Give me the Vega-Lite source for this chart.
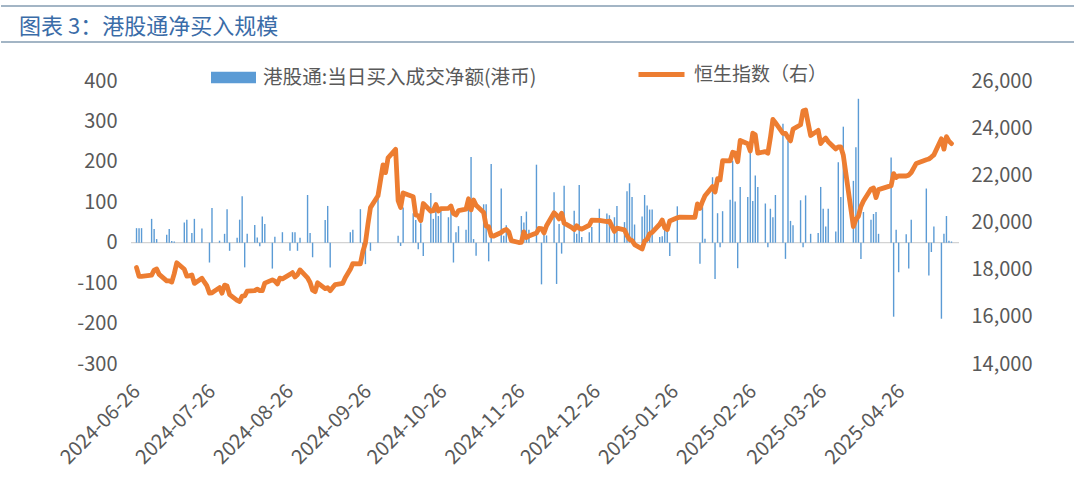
{
  "$schema": "https://vega.github.io/schema/vega-lite/v6.json",
  "padding": {"left": 0, "top": 5, "right": 0, "bottom": 0},
  "background": "white",
  "bounds": "flush",
  "spacing": 39,
  "config": {
    "view": {"stroke": null},
    "font": "Noto Sans CJK SC",
    "axis": {"labelFont": "Noto Sans CJK SC", "labelFontSize": 20, "labelColor": "#595959", "ticks": false, "domain": false, "grid": false, "title": null},
    "legend": {"labelFont": "Noto Sans CJK SC", "labelFontSize": 19, "labelColor": "#595959", "padding": 0, "labelOffset": 7, "labelLimit": 0}
  },
  "datasets": {
    "m": [
      {"d": "2024-06-26", "c": 18089, "v": 36}, {"d": "2024-06-27", "c": 17716, "v": 36}, {"d": "2024-06-28", "c": 17719, "v": 36},
      {"d": "2024-07-02", "c": 17769, "v": 59}, {"d": "2024-07-03", "c": 17979, "v": 34}, {"d": "2024-07-04", "c": 18028, "v": 9},
      {"d": "2024-07-05", "c": 17800}, {"d": "2024-07-08", "c": 17524, "v": 20}, {"d": "2024-07-09", "c": 17523, "v": 34},
      {"d": "2024-07-10", "c": 17472, "v": 4}, {"d": "2024-07-11", "c": 17832, "v": 3}, {"d": "2024-07-12", "c": 18294},
      {"d": "2024-07-15", "c": 18015, "v": 50}, {"d": "2024-07-16", "c": 17727, "v": 57}, {"d": "2024-07-17", "c": 17739},
      {"d": "2024-07-18", "c": 17778, "v": 24}, {"d": "2024-07-19", "c": 17418, "v": 59}, {"d": "2024-07-22", "c": 17635, "v": 35},
      {"d": "2024-07-23", "c": 17469}, {"d": "2024-07-24", "c": 17311}, {"d": "2024-07-25", "c": 17005, "v": -49},
      {"d": "2024-07-26", "c": 17021, "v": 86}, {"d": "2024-07-29", "c": 17238, "v": 5}, {"d": "2024-07-30", "c": 17004},
      {"d": "2024-07-31", "c": 17345, "v": 22}, {"d": "2024-08-01", "c": 17304, "v": 83}, {"d": "2024-08-02", "c": 16946, "v": -20},
      {"d": "2024-08-05", "c": 16698, "v": 12}, {"d": "2024-08-06", "c": 16647, "v": 57}, {"d": "2024-08-07", "c": 16877, "v": 115},
      {"d": "2024-08-08", "c": 16891, "v": -61}, {"d": "2024-08-09", "c": 17090, "v": 22}, {"d": "2024-08-12", "c": 17112, "v": 44},
      {"d": "2024-08-13", "c": 17174, "v": 13}, {"d": "2024-08-14", "c": 17113, "v": -9}, {"d": "2024-08-15", "c": 17109, "v": 65},
      {"d": "2024-08-16", "c": 17430, "v": 46}, {"d": "2024-08-19", "c": 17569, "v": -64}, {"d": "2024-08-20", "c": 17511, "v": 15},
      {"d": "2024-08-21", "c": 17392}, {"d": "2024-08-22", "c": 17641}, {"d": "2024-08-23", "c": 17612, "v": 26},
      {"d": "2024-08-26", "c": 17798, "v": -20}, {"d": "2024-08-27", "c": 17874, "v": 26}, {"d": "2024-08-28", "c": 17692, "v": 26},
      {"d": "2024-08-29", "c": 17787, "v": -20}, {"d": "2024-08-30", "c": 17989, "v": 12}, {"d": "2024-09-02", "c": 17651, "v": 118},
      {"d": "2024-09-03", "c": 17457, "v": 24}, {"d": "2024-09-04", "c": 17127, "v": -36}, {"d": "2024-09-05", "c": 17069},
      {"d": "2024-09-06", "c": 17444}, {"d": "2024-09-09", "c": 17196, "v": 56}, {"d": "2024-09-10", "c": 17234, "v": 91},
      {"d": "2024-09-11", "c": 17108, "v": -61}, {"d": "2024-09-12", "c": 17240}, {"d": "2024-09-13", "c": 17369},
      {"d": "2024-09-16", "c": 17422}, {"d": "2024-09-17", "c": 17660}, {"d": "2024-09-19", "c": 18013, "v": 26},
      {"d": "2024-09-20", "c": 18258, "v": 32}, {"d": "2024-09-23", "c": 18247, "v": 83}, {"d": "2024-09-24", "c": 18779, "v": -38},
      {"d": "2024-09-25", "c": 19129, "v": -53}, {"d": "2024-09-26", "c": 19925}, {"d": "2024-09-27", "c": 20632, "v": -20},
      {"d": "2024-09-30", "c": 21134, "v": 110}, {"d": "2024-10-02", "c": 22444}, {"d": "2024-10-03", "c": 22114},
      {"d": "2024-10-04", "c": 22737}, {"d": "2024-10-07", "c": 23100}, {"d": "2024-10-08", "c": 20927, "v": 17},
      {"d": "2024-10-09", "c": 20637, "v": -8}, {"d": "2024-10-10", "c": 21252, "v": 87}, {"d": "2024-10-14", "c": 21093, "v": 73},
      {"d": "2024-10-15", "c": 20319, "v": 56}, {"d": "2024-10-16", "c": 20287, "v": -16}, {"d": "2024-10-17", "c": 20080, "v": 48},
      {"d": "2024-10-18", "c": 20804, "v": -33}, {"d": "2024-10-21", "c": 20478, "v": 123}, {"d": "2024-10-22", "c": 20499, "v": 59},
      {"d": "2024-10-23", "c": 20760, "v": 98}, {"d": "2024-10-24", "c": 20489, "v": 66}, {"d": "2024-10-25", "c": 20590, "v": 83},
      {"d": "2024-10-28", "c": 20599, "v": 63}, {"d": "2024-10-29", "c": 20701, "v": 87}, {"d": "2024-10-30", "c": 20381, "v": -49},
      {"d": "2024-10-31", "c": 20317, "v": 26}, {"d": "2024-11-01", "c": 20506, "v": 41}, {"d": "2024-11-04", "c": 20568, "v": 32},
      {"d": "2024-11-05", "c": 21006, "v": 102}, {"d": "2024-11-06", "c": 20538, "v": 212}, {"d": "2024-11-07", "c": 20953, "v": 9},
      {"d": "2024-11-08", "c": 20728, "v": -32}, {"d": "2024-11-11", "c": 20426, "v": 95}, {"d": "2024-11-12", "c": 19846, "v": 95},
      {"d": "2024-11-13", "c": 19824, "v": -46}, {"d": "2024-11-14", "c": 19435, "v": 195}, {"d": "2024-11-15", "c": 19426},
      {"d": "2024-11-18", "c": 19577, "v": 134}, {"d": "2024-11-19", "c": 19664, "v": 17}, {"d": "2024-11-20", "c": 19705, "v": 43},
      {"d": "2024-11-21", "c": 19601}, {"d": "2024-11-22", "c": 19230}, {"d": "2024-11-25", "c": 19151},
      {"d": "2024-11-26", "c": 19159, "v": 66}, {"d": "2024-11-27", "c": 19603, "v": 50}, {"d": "2024-11-28", "c": 19366, "v": 77},
      {"d": "2024-11-29", "c": 19424, "v": 32}, {"d": "2024-12-02", "c": 19551, "v": 193}, {"d": "2024-12-03", "c": 19746},
      {"d": "2024-12-04", "c": 19742, "v": -103}, {"d": "2024-12-05", "c": 19560, "v": 22}, {"d": "2024-12-06", "c": 19865, "v": 18},
      {"d": "2024-12-09", "c": 20415, "v": 125}, {"d": "2024-12-10", "c": 20311, "v": -102}, {"d": "2024-12-11", "c": 20155, "v": 46},
      {"d": "2024-12-12", "c": 20397, "v": -27}, {"d": "2024-12-13", "c": 19971, "v": 141}, {"d": "2024-12-16", "c": 19795},
      {"d": "2024-12-17", "c": 19700, "v": 79}, {"d": "2024-12-18", "c": 19865, "v": 22}, {"d": "2024-12-19", "c": 19753, "v": 143},
      {"d": "2024-12-20", "c": 19721, "v": 14}, {"d": "2024-12-23", "c": 19883, "v": 26}, {"d": "2024-12-24", "c": 20098, "v": 39},
      {"d": "2024-12-27", "c": 20090, "v": 84}, {"d": "2024-12-30", "c": 20041, "v": 72}, {"d": "2024-12-31", "c": 20060, "v": 68},
      {"d": "2025-01-02", "c": 19623, "v": 63}, {"d": "2025-01-03", "c": 19760, "v": 91}, {"d": "2025-01-06", "c": 19688, "v": 51},
      {"d": "2025-01-07", "c": 19448, "v": 127}, {"d": "2025-01-08", "c": 19280, "v": 147}, {"d": "2025-01-09", "c": 19240, "v": 113},
      {"d": "2025-01-10", "c": 19064, "v": 45}, {"d": "2025-01-13", "c": 18874, "v": 65}, {"d": "2025-01-14", "c": 19219, "v": 118},
      {"d": "2025-01-15", "c": 19286, "v": 92}, {"d": "2025-01-16", "c": 19522, "v": 82}, {"d": "2025-01-17", "c": 19584, "v": 82},
      {"d": "2025-01-20", "c": 19926, "v": 14}, {"d": "2025-01-21", "c": 20107, "v": 16}, {"d": "2025-01-22", "c": 19778, "v": 39},
      {"d": "2025-01-23", "c": 19700, "v": 35}, {"d": "2025-01-24", "c": 20066, "v": -33}, {"d": "2025-01-27", "c": 20198, "v": 90},
      {"d": "2025-01-28", "c": 20225}, {"d": "2025-02-03", "c": 20217}, {"d": "2025-02-04", "c": 20790},
      {"d": "2025-02-05", "c": 20597, "v": -52}, {"d": "2025-02-06", "c": 20892, "v": 88}, {"d": "2025-02-07", "c": 21133, "v": 10},
      {"d": "2025-02-10", "c": 21522, "v": 162}, {"d": "2025-02-11", "c": 21295, "v": -90}, {"d": "2025-02-12", "c": 21858, "v": 73},
      {"d": "2025-02-13", "c": 21814, "v": -11}, {"d": "2025-02-14", "c": 22620, "v": 78}, {"d": "2025-02-17", "c": 22616, "v": 106},
      {"d": "2025-02-18", "c": 22976, "v": 203}, {"d": "2025-02-19", "c": 22944, "v": 102}, {"d": "2025-02-20", "c": 22577, "v": -63},
      {"d": "2025-02-21", "c": 23478, "v": 138}, {"d": "2025-02-24", "c": 23341, "v": 113}, {"d": "2025-02-25", "c": 23035, "v": 224},
      {"d": "2025-02-26", "c": 23788, "v": 103}, {"d": "2025-02-27", "c": 23718, "v": 166}, {"d": "2025-02-28", "c": 22941, "v": 138},
      {"d": "2025-03-03", "c": 23006, "v": 97}, {"d": "2025-03-04", "c": 22941, "v": -11}, {"d": "2025-03-05", "c": 23595, "v": 84},
      {"d": "2025-03-06", "c": 24370, "v": 63}, {"d": "2025-03-07", "c": 24231, "v": 118}, {"d": "2025-03-10", "c": 23783, "v": 294},
      {"d": "2025-03-11", "c": 23782, "v": -40}, {"d": "2025-03-12", "c": 23600, "v": 252}, {"d": "2025-03-13", "c": 23462, "v": 54},
      {"d": "2025-03-14", "c": 23959, "v": 43}, {"d": "2025-03-17", "c": 24145, "v": 105}, {"d": "2025-03-18", "c": 24741, "v": -11},
      {"d": "2025-03-19", "c": 24771, "v": 117}, {"d": "2025-03-20", "c": 24219}, {"d": "2025-03-21", "c": 23690, "v": 22},
      {"d": "2025-03-24", "c": 23906, "v": 24}, {"d": "2025-03-25", "c": 23344, "v": 138}, {"d": "2025-03-26", "c": 23483, "v": 84},
      {"d": "2025-03-27", "c": 23579, "v": 40}, {"d": "2025-03-28", "c": 23426, "v": 84}, {"d": "2025-03-31", "c": 23120, "v": 28},
      {"d": "2025-04-01", "c": 23206, "v": 199}, {"d": "2025-04-02", "c": 23202, "v": 113}, {"d": "2025-04-03", "c": 22849, "v": 287},
      {"d": "2025-04-07", "c": 19828, "v": 153}, {"d": "2025-04-08", "c": 20128, "v": 236}, {"d": "2025-04-09", "c": 20264, "v": 356},
      {"d": "2025-04-10", "c": 20681, "v": -40}, {"d": "2025-04-11", "c": 20915, "v": 76}, {"d": "2025-04-14", "c": 21417, "v": 57},
      {"d": "2025-04-15", "c": 21466, "v": 71}, {"d": "2025-04-16", "c": 21057, "v": 76}, {"d": "2025-04-17", "c": 21395, "v": 22},
      {"d": "2025-04-22", "c": 21562, "v": 211}, {"d": "2025-04-23", "c": 22073, "v": -183}, {"d": "2025-04-24", "c": 21910, "v": 32},
      {"d": "2025-04-25", "c": 21980, "v": -73}, {"d": "2025-04-28", "c": 21972, "v": 21}, {"d": "2025-04-29", "c": 22008, "v": -64},
      {"d": "2025-04-30", "c": 22119, "v": 57}, {"d": "2025-05-02", "c": 22504}, {"d": "2025-05-06", "c": 22662, "v": 134},
      {"d": "2025-05-07", "c": 22692, "v": -81}, {"d": "2025-05-08", "c": 22775, "v": -23}, {"d": "2025-05-09", "c": 22868, "v": 40},
      {"d": "2025-05-12", "c": 23549, "v": -188}, {"d": "2025-05-13", "c": 23109, "v": 22}, {"d": "2025-05-14", "c": 23640, "v": 66},
      {"d": "2025-05-15", "c": 23453, "v": 5}, {"d": "2025-05-16", "c": 23345, "v": 3}
    ]
  },
  "vconcat": [
    {
      "width": 1073,
      "height": 36,
      "data": {"values": [{"p": 0}, {"p": 1}]},
      "title": {
        "text": "图表 3：港股通净买入规模",
        "anchor": "start",
        "frame": "group",
        "offset": -34,
        "dx": 18,
        "fontSize": 22,
        "fontWeight": "normal",
        "color": "#3a6ca8",
        "font": "Noto Sans CJK SC"
      },
      "mark": {"type": "rule", "color": "#a3b5c5", "strokeWidth": 2},
      "encoding": {
        "y": {"field": "p", "type": "quantitative", "scale": {"domain": [0, 1]}, "axis": null}
      }
    },
    {
      "bounds": "flush",
      "spacing": 0,
      "hconcat": [
        {
          "width": 130,
          "height": 283,
          "data": {"values": [{"s": 0}]},
          "mark": {"type": "point", "opacity": 0},
          "encoding": {}
        },
        {
          "width": 828,
          "height": 283,
          "data": {"name": "m"},
          "layer": [
            {
              "layer": [
                {
                  "data": {"values": [{"z": 0}]},
                  "mark": {"type": "rule", "color": "#c8c8c8", "strokeWidth": 1},
                  "encoding": {
                    "y": {"field": "z", "type": "quantitative", "scale": {"domain": [-300, 400]}}
                  }
                },
                {
                  "mark": {"type": "bar", "size": 1.4},
                  "encoding": {
                    "x": {
                      "field": "d", "type": "temporal",
                      "scale": {"type": "utc", "domain": [
                        {"year": 2024, "month": 6, "date": 25, "hours": 19, "utc": true},
                        {"year": 2025, "month": 5, "date": 17, "hours": 0, "utc": true}
                      ]},
                      "axis": {
                        "values": [
                          {"year": 2024, "month": 6, "date": 26, "utc": true}, {"year": 2024, "month": 7, "date": 26, "utc": true},
                          {"year": 2024, "month": 8, "date": 26, "utc": true}, {"year": 2024, "month": 9, "date": 26, "utc": true},
                          {"year": 2024, "month": 10, "date": 26, "utc": true}, {"year": 2024, "month": 11, "date": 26, "utc": true},
                          {"year": 2024, "month": 12, "date": 26, "utc": true}, {"year": 2025, "month": 1, "date": 26, "utc": true},
                          {"year": 2025, "month": 2, "date": 26, "utc": true}, {"year": 2025, "month": 3, "date": 26, "utc": true},
                          {"year": 2025, "month": 4, "date": 26, "utc": true}
                        ],
                        "labelExpr": "utcFormat(datum.value, '%Y-%m-%d')",
                        "labelAngle": -45, "labelAlign": "right", "labelBaseline": "middle",
                        "labelPadding": 24, "labelFlush": false, "labelOverlap": false
                      }
                    },
                    "y": {
                      "field": "v", "type": "quantitative",
                      "scale": {"domain": [-300, 400]},
                      "axis": {
                        "values": [-300, -200, -100, 0, 100, 200, 300, 400],
                        "labelPadding": 14,
                        "labelExpr": "replace(datum.label, '\u2212', '-')"
                      }
                    },
                    "color": {
                      "datum": "港股通:当日买入成交净额(港币)",
                      "scale": {"range": ["#5b9bd5"]},
                      "legend": {
                        "orient": "none", "legendX": 210, "legendY": 49, "title": null,
                        "labelFontSize": 19.6,
                        "symbolType": "M-1,-0.26H1V0.26H-1Z", "symbolSize": 2025, "symbolStrokeWidth": 0
                      }
                    }
                  }
                }
              ]
            },
            {
              "mark": {"type": "line", "strokeWidth": 4.8, "strokeJoin": "round", "strokeCap": "round"},
              "encoding": {
                "x": {
                  "field": "d", "type": "temporal",
                  "scale": {"type": "utc", "domain": [
                    {"year": 2024, "month": 6, "date": 25, "hours": 19, "utc": true},
                    {"year": 2025, "month": 5, "date": 17, "hours": 0, "utc": true}
                  ]},
                  "axis": {
                    "values": [
                      {"year": 2024, "month": 6, "date": 26, "utc": true}, {"year": 2024, "month": 7, "date": 26, "utc": true},
                      {"year": 2024, "month": 8, "date": 26, "utc": true}, {"year": 2024, "month": 9, "date": 26, "utc": true},
                      {"year": 2024, "month": 10, "date": 26, "utc": true}, {"year": 2024, "month": 11, "date": 26, "utc": true},
                      {"year": 2024, "month": 12, "date": 26, "utc": true}, {"year": 2025, "month": 1, "date": 26, "utc": true},
                      {"year": 2025, "month": 2, "date": 26, "utc": true}, {"year": 2025, "month": 3, "date": 26, "utc": true},
                      {"year": 2025, "month": 4, "date": 26, "utc": true}
                    ],
                    "labelExpr": "utcFormat(datum.value, '%Y-%m-%d')",
                    "labelAngle": -45, "labelAlign": "right", "labelBaseline": "middle",
                    "labelPadding": 24, "labelFlush": false, "labelOverlap": false
                  }
                },
                "y": {
                  "field": "c", "type": "quantitative",
                  "scale": {"domain": [14000, 26000]},
                  "axis": {
                    "values": [14000, 16000, 18000, 20000, 22000, 24000, 26000],
                    "labelExpr": "format(datum.value, ',')",
                    "labelPadding": 12
                  }
                },
                "stroke": {
                  "datum": "恒生指数（右）",
                  "scale": {"range": ["#ed7d31"]},
                  "legend": {
                    "orient": "none", "legendX": 635, "legendY": 43, "title": null,
                    "symbolType": "stroke", "symbolSize": 2116, "symbolStrokeWidth": 4.8
                  }
                }
              }
            }
          ],
          "resolve": {"scale": {"y": "independent"}}
        }
      ]
    }
  ]
}
